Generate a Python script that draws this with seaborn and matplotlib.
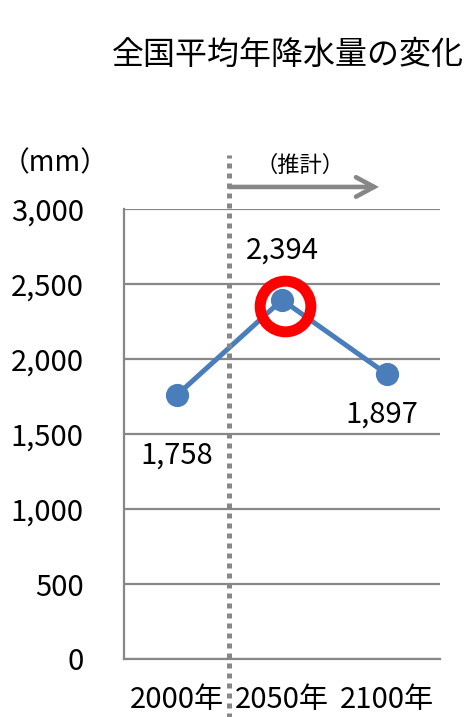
import matplotlib
matplotlib.use("Agg")
import matplotlib.pyplot as plt
import matplotlib.transforms as mtransforms
import seaborn as sns
import pandas as pd

years = ["2000年", "2050年", "2100年"]
rainfall = [1758, 2394, 1897]
yticks = [0, 500, 1000, 1500, 2000, 2500, 3000]

sns.set_theme(style="white")
plt.rcParams["font.family"] = ["Noto Sans CJK JP", "DejaVu Sans"]
plt.rcParams["text.color"] = "black"
plt.rcParams["xtick.color"] = "black"
plt.rcParams["ytick.color"] = "black"

df = pd.DataFrame({"year": years, "rainfall": rainfall})

fig = plt.figure(figsize=(4.65, 7.17), dpi=100)
ax = fig.add_axes([124 / 465, 1 - 659 / 717, 316 / 465, 450 / 717])

grid_c = "#878787"
blue = "#4a7ebb"
fs = 21

sns.pointplot(data=df, x="year", y="rainfall", ax=ax, color=blue,
              markers="o", markersize=14, linewidth=3.6, errorbar=None)
ax.set_xlim(-0.5, 2.5)
ax.set_ylim(0, 3000)

# highlight ring around the 2050 peak
ring_tr = mtransforms.offset_copy(ax.transData, fig=fig, x=2.2, y=-4.3, units="points")
ax.plot([1], [rainfall[1]], marker="o", markersize=36.5, markerfacecolor="none",
        markeredgecolor="#ff0000", markeredgewidth=7.9, clip_on=False, zorder=5,
        transform=ring_tr)

# value labels
ax.text(1, rainfall[1] + 330, f"{rainfall[1]:,}", ha="center", va="center", fontsize=fs)
ax.text(0, rainfall[0] - 400, f"{rainfall[0]:,}", ha="center", va="center", fontsize=fs)
ax.text(1.95, rainfall[2] - 265, f"{rainfall[2]:,}", ha="center", va="center", fontsize=fs)

# grid and axes
ax.set_yticks(yticks)
ax.set_yticklabels([f"{v:,}" for v in yticks], fontsize=fs)
ax.yaxis.grid(True, color=grid_c, linewidth=1.6)
ax.set_xticks([0, 1, 2])
ax.set_xticklabels(years, fontsize=fs)
ax.set_xticks([-0.5, 0.5, 1.5, 2.5], minor=True)
ax.tick_params(axis="x", which="major", length=0, pad=18.5)
ax.tick_params(axis="x", which="minor", direction="out", length=6.5, width=1.6, color=grid_c)
ax.tick_params(axis="y", direction="out", length=7, width=1.6, color=grid_c, pad=22)
for s in ["top", "right"]:
    ax.spines[s].set_visible(False)
for s in ["left", "bottom"]:
    ax.spines[s].set_color(grid_c)
    ax.spines[s].set_linewidth(1.6)
ax.set_xlabel("")
ax.set_ylabel("")

# boundary between observed and projected values
ax.axvline(0.5, ymin=-0.13, ymax=1.12, color=grid_c, linewidth=3.6,
           linestyle=(0, (1, 1)), clip_on=False, zorder=4)
ax.annotate("", xy=(1.92, 1.049), xytext=(0.5, 1.049),
            xycoords=("data", "axes fraction"), textcoords=("data", "axes fraction"),
            arrowprops=dict(arrowstyle="->,head_length=1.3,head_width=0.7",
                            color=grid_c, lw=3.3, shrinkA=0, shrinkB=0,
                            mutation_scale=10, joinstyle="miter"))
ax.text(1.17, 1.098, "（推計）", transform=ax.get_xaxis_transform(),
        ha="center", va="center", fontsize=16)
fig.text(0.004, 1 - 163 / 717, "（mm）", ha="left", va="center", fontsize=20)

fig.text(288 / 465, 1 - 55 / 717, "全国平均年降水量の変化", ha="center", va="center", fontsize=23)

fig.savefig("out.png", dpi=100)
